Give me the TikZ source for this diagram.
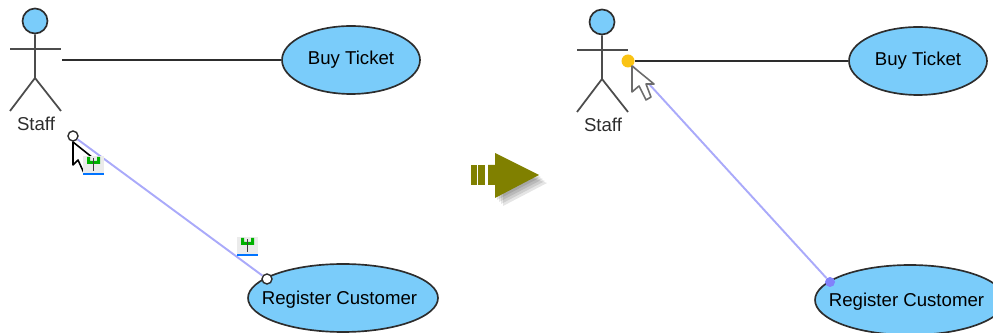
\documentclass[tikz,border=0pt]{standalone}
\usepackage{fontspec}
\setmainfont{Liberation Sans}
\usetikzlibrary{shapes.geometric, positioning}
\definecolor{ucblue}{RGB}{122,204,250}
\definecolor{ucline}{RGB}{45,45,45}
\definecolor{linkblue}{RGB}{170,170,250}
\definecolor{arrowolive}{RGB}{128,128,0}
\definecolor{dragyellow}{RGB}{250,195,20}
\definecolor{dropblue}{RGB}{130,130,250}
\tikzset{
    usecase/.style={ellipse,draw=ucline,fill=ucblue,line width=0.95pt,inner sep=0pt,font=\fontsize{10.6}{12}\selectfont},
    longcase/.style={usecase,inner xsep=-0.29cm,text depth=0pt,minimum width=3.8cm},
    handle/.style={circle,draw=ucline,fill=white,line width=0.8pt,inner sep=0pt,minimum size=0.2cm},
    actorline/.style={draw=ucline!85,line width=1pt},
    assoc/.style={draw=ucline,line width=1pt},
    link/.style={draw=linkblue,line width=1.1pt},
    cursor/.style={fill=white,line width=0.9pt,line join=round}
}
\begin{document}
\begin{tikzpicture}[x=0.02cm,y=-0.02cm]
    \useasboundingbox (0,0) rectangle (993,333);
    \clip (0,0) rectangle (993,333);

    % Attori
    \foreach \side/\cx/\cy in {L/35/21,R/602/22} {
        \node[circle,draw=ucline,fill=ucblue,line width=0.95pt,inner sep=0pt,minimum size=0.5cm] (head\side) at (\cx,\cy) {};
        \draw[actorline] (head\side.south) -- (\cx,\cy+57) -- (\cx-25,\cy+90);
        \draw[actorline] (\cx,\cy+57) -- (\cx+26,\cy+90);
        \draw[actorline] (\cx-25,\cy+28) -- (\cx+26,\cy+28);
        \node[font=\fontsize{10.6}{12}\selectfont,text=ucline] (staff\side) at (\cx+1,\cy+103) {Staff};
    }

    % Casi d'uso
    \node[usecase,minimum width=2.76cm,minimum height=1.36cm] (buyL) at (351,60) {Buy Ticket};
    \node[longcase,minimum height=1.36cm] (regL) at (343,298) {Register Customer\kern4pt};
    \node[usecase,minimum width=2.76cm,minimum height=1.36cm] (buyR) at (918,61) {Buy Ticket};
    \node[longcase,minimum height=1.4cm] (regR) at (910,300) {Register Customer\kern4pt};

    % Prima del trascinamento
    \coordinate (startL) at (62,60);
    \draw[assoc] (startL) -- (buyL.west);
    \node[handle] (dragL) at (73,136) {};
    \node[handle] (dropL) at (267,279) {};
    \draw[link] (dragL) -- (dropL);

    % Cursore sinistro
    \draw[cursor,draw=black] (73,142) -- (73,165) -- (78,160) -- (84,173) -- (90,170) -- (84,158) -- (93,158) -- cycle;

    % Puntine
    \foreach \pin/\px/\py in {pinA/83/156,pinB/237/237} {
        \fill[white!92!black] (\px,\py) rectangle (\px+21,\py+17);
        \fill[green!70!black] (\px+4,\py+1) -- (\px+7,\py+1) -- (\px+7,\py+5) -- (\px+14,\py+5) -- (\px+14,\py+1) -- (\px+17,\py+1) -- (\px+17,\py+8) -- (\px+4,\py+8) -- cycle;
        \draw[black!75,line width=0.8pt] (\px+10.5,\py+2) -- (\px+10.5,\py+15);
        \draw[blue!55!cyan,line width=1pt] (\px,\py+18) -- (\px+21,\py+18);
    }

    % Freccia centrale
    \foreach \d in {2,4,6,8} {
        \fill[black,opacity=0.1] (495+\d,160+\d) -- (495+\d,198+\d) -- (539+\d,175+\d) -- cycle;
    }
    \fill[arrowolive] (495,153) -- (539,175) -- (495,198) -- (495,185) -- (488,185) -- (488,165) -- (495,165) -- cycle;
    \fill[arrowolive] (478,165) rectangle (485,185);
    \fill[arrowolive] (471,165) rectangle (477,185);

    % Dopo il trascinamento
    \node[circle,fill=dragyellow,inner sep=0pt,minimum size=0.26cm] (dragR) at (628,61) {};
    \node[circle,fill=dropblue,inner sep=0pt,minimum size=0.2cm] (dropR) at (830,282) {};
    \draw[link] (dragR) -- (dropR);
    \draw[assoc] (dragR) -- (buyR.west);

    % Cursore destro
    \draw[cursor,draw=ucline!70] (632,66) -- (632,92) -- (639,86) -- (646,100) -- (651,97) -- (646,84) -- (654,84) -- cycle;
\end{tikzpicture}
\end{document}
